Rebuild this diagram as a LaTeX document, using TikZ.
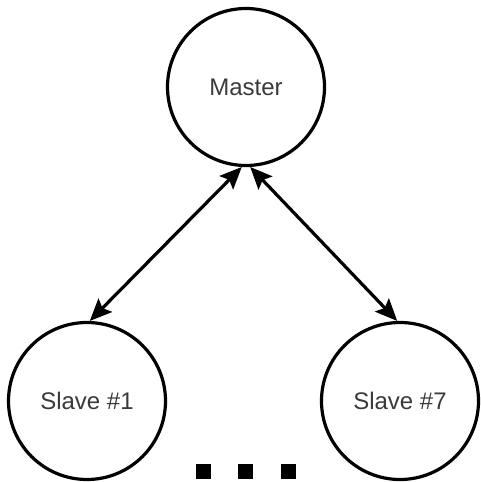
\documentclass[tikz,border=0pt]{standalone}
\usepackage{fontspec}
\setmainfont{Liberation Sans}
\usetikzlibrary{arrows.meta}
\definecolor{labelgray}{HTML}{3A3A3A}
\tikzset{
  station/.style={circle, draw=black, line width=3.2pt, minimum size=157pt,
    inner sep=0pt, font=\fontsize{24}{28}\selectfont, text=labelgray},
  link/.style={line width=3.2pt, {Stealth[length=22pt,width=19pt,inset=4pt]}-{Stealth[length=22pt,width=19pt,inset=4pt]}},
  dot/.style={fill=black, minimum size=15pt, inner sep=0pt, draw=none}
}
\begin{document}
\begin{tikzpicture}[x=1pt, y=-1pt]
\useasboundingbox (0,0) rectangle (481,482);
\node[station] (master) at (246,87) {Master};
\node[station] (s1) at (87,401) {Slave \#1};
\node[station] (s7) at (400,401) {Slave \#7};
\draw[link] (master.267) -- (s1.88);
\draw[link] (master.273) -- (s7.92);
\node[dot] (d1) at (203,471) {};
\node[dot] (d2) at (245,471) {};
\node[dot] (d3) at (288,471) {};
\end{tikzpicture}
\end{document}
